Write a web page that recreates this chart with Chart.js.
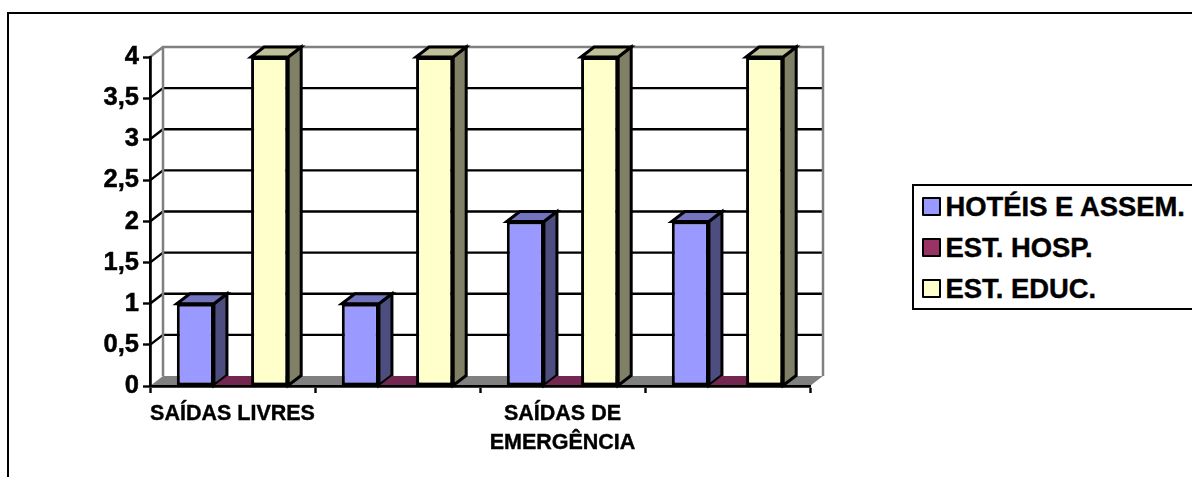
<!DOCTYPE html>
<html lang="pt">
<head>
  <meta charset="UTF-8">
  <title>Saídas</title>
  <style>
    html, body { margin: 0; padding: 0; background: #fff; overflow: hidden; }
    body { width: 1192px; height: 477px; position: relative; font-family: "Liberation Sans", Arial, sans-serif; }
    #frame { position: absolute; left: 7px; top: 12px; right: -5px; bottom: -5px; border: 2.5px solid #000; }
    #wrap { position: absolute; left: 0; top: 0; width: 1192px; height: 477px; }
    #legend {
      position: absolute; left: 912px; top: 184px; width: 290px; height: 122px;
      border: 2.5px solid #000; background: #fff; box-sizing: content-box;
    }
    .row { position: absolute; left: 7.5px; height: 24px; display: flex; align-items: center; font-weight: bold; font-size: 27.4px; -webkit-text-stroke: 0.4px #000; white-space: nowrap; color: #000; }
    .swatch { width: 15px; height: 15px; border: 2.5px solid #000; margin-right: 5px; flex: none; border-radius: 1px; }
  </style>
</head>
<body>
  <div id="frame"></div>
  <div id="wrap"><canvas id="chart" width="1192" height="477"></canvas></div>
  <div id="legend"></div>
  <script src="https://cdn.jsdelivr.net/npm/chart.js"></script>
  <script>
    const categories = ["SAÍDAS LIVRES", "", ["SAÍDAS DE", "EMERGÊNCIA"], ""];
    const hoteis = [1, 1, 2, 2];
    const hosp = [0, 0, 0, 0];
    const educ = [4, 4, 4, 4];
    const seriesNames = ["HOTÉIS E ASSEM.", "EST. HOSP.", "EST. EDUC."];

    // front, top and side shades of each series
    const shades = [
      { front: "#9999FF", top: "#7373BF", side: "#4D4D80" },
      { front: "#993366", top: "#732650", side: "#4D1933" },
      { front: "#FFFFCC", top: "#BFBF99", side: "#808066" }
    ];

    const depthX = 13;
    const depthY = -10;

    function poly(ctx, pts, fill, stroke, lw) {
      ctx.beginPath();
      pts.forEach((p, i) => i ? ctx.lineTo(p[0], p[1]) : ctx.moveTo(p[0], p[1]));
      ctx.closePath();
      if (fill) { ctx.fillStyle = fill; ctx.fill(); }
      if (stroke) { ctx.strokeStyle = stroke; ctx.lineWidth = lw; ctx.lineJoin = "miter"; ctx.stroke(); }
    }

    // back wall, floor and the extruded faces of the bars
    const box3d = {
      id: "box3d",
      beforeDatasetsDraw(chart) {
        const ctx = chart.ctx;
        const { left, right, top, bottom } = chart.chartArea;
        const y = chart.scales.y;
        ctx.save();

        poly(ctx, [[left, bottom], [right, bottom], [right + depthX, bottom + depthY], [left + depthX, bottom + depthY]], "#808080");

        ctx.strokeStyle = "#000";
        ctx.lineWidth = 2.4;
        y.ticks.forEach(t => {
          if (t.value === 0 || t.value === y.max) return;
          const py = y.getPixelForValue(t.value);
          ctx.beginPath();
          ctx.moveTo(left, py);
          ctx.lineTo(left + depthX, py + depthY);
          ctx.lineTo(right + depthX - 1, py + depthY);
          ctx.stroke();
        });

        ctx.strokeStyle = "#808080";
        ctx.lineWidth = 2.5;
        ctx.beginPath();
        ctx.moveTo(left + depthX, bottom + depthY);
        ctx.lineTo(left + depthX, top + depthY);
        ctx.lineTo(right + depthX, top + depthY);
        ctx.lineTo(right + depthX, bottom + depthY);
        ctx.moveTo(left, top);
        ctx.lineTo(left + depthX, top + depthY);
        ctx.stroke();

        chart.data.datasets.forEach((ds, di) => {
          chart.getDatasetMeta(di).data.forEach(bar => {
            const x0 = bar.x - bar.width / 2;
            const x1 = bar.x + bar.width / 2;
            const yt = bar.y;
            const yb = bar.base;
            if (yb - yt > 0.5) {
              poly(ctx, [[x1, yt], [x1 + depthX, yt + depthY], [x1 + depthX, yb + depthY], [x1, yb]], shades[di].side, "#000", 3);
              poly(ctx, [[x0, yt], [x0 + depthX, yt + depthY], [x1 + depthX, yt + depthY], [x1, yt]], shades[di].top, "#000", 3);
            } else {
              poly(ctx, [[x0, yt], [x0 + depthX, yt + depthY], [x1 + depthX, yt + depthY], [x1, yt]], shades[di].top);
            }
          });
        });
        ctx.restore();
      }
    };

    const fontFamily = "'Liberation Sans', Arial, sans-serif";

    new Chart(document.getElementById("chart"), {
      type: "bar",
      plugins: [box3d],
      data: {
        labels: categories,
        datasets: [hoteis, hosp, educ].map((values, i) => ({
          label: seriesNames[i],
          data: values,
          backgroundColor: shades[i].front,
          borderColor: "#000",
          borderWidth: 3,
          borderSkipped: false,
          categoryPercentage: 0.675,
          barPercentage: 1
        }))
      },
      options: {
        responsive: false,
        animation: false,
        layout: { padding: { top: 57, right: 382, left: 0, bottom: 0 } },
        plugins: { legend: { display: false }, tooltip: { enabled: false } },
        scales: {
          x: {
            offset: true,
            grid: { offset: true, drawOnChartArea: false, drawTicks: true, tickLength: 7, tickColor: "#000", tickWidth: 2.4 },
            border: { color: "#000", width: 2.8, z: 2 },
            ticks: {
              color: "#000",
              font: { family: fontFamily, weight: "bold", size: 21.5, lineHeight: 1.38 },
              textStrokeColor: "#000",
              textStrokeWidth: 0.4,
              padding: 6,
              autoSkip: false,
              maxRotation: 0
            },
            afterFit(scale) { scale.height = 91; }
          },
          y: {
            min: 0,
            max: 4,
            grid: { drawOnChartArea: false, drawTicks: true, tickLength: 7, tickColor: "#000", tickWidth: 2.4 },
            border: { color: "#000", width: 2.8, z: 2 },
            ticks: {
              stepSize: 0.5,
              color: "#000",
              font: { family: fontFamily, weight: "bold", size: 25.5 },
              textStrokeColor: "#000",
              textStrokeWidth: 0.5,
              padding: 4,
              callback: v => String(v).replace(".", ",")
            },
            afterFit(scale) { scale.width = 150; }
          }
        }
      }
    });

    // legend rows, same names and colours as the datasets
    const legend = document.getElementById("legend");
    seriesNames.forEach((name, i) => {
      const row = document.createElement("div");
      row.className = "row";
      row.style.top = (8.5 + i * 41) + "px";
      const sw = document.createElement("span");
      sw.className = "swatch";
      sw.style.background = shades[i].front;
      row.appendChild(sw);
      row.appendChild(document.createTextNode(name));
      legend.appendChild(row);
    });
  </script>
</body>
</html>
